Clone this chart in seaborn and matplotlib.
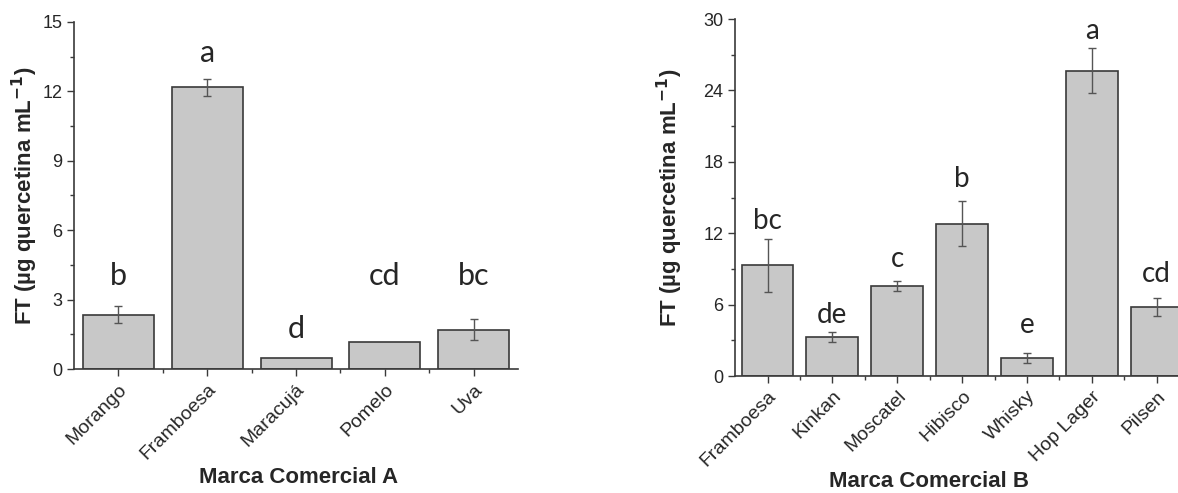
import numpy as np
import pandas as pd
import matplotlib
matplotlib.use('Agg')
import matplotlib.pyplot as plt
import seaborn as sns
from matplotlib.ticker import MultipleLocator

### Dados ###

sabores_a = ['Morango', 'Framboesa', 'Maracujá', 'Pomelo', 'Uva']
ft_a = [2.35, 12.17, 0.47, 1.17, 1.70]
dp_a = [0.38, 0.38, 0.0, 0.0, 0.45]
letras_a = ['b', 'a', 'd', 'cd', 'bc']
y_letras_a = [3.63, 13.27, 1.34, 3.63, 3.63]   # linha de base das letras

sabores_b = ['Framboesa', 'Kinkan', 'Moscatel', 'Hibisco', 'Whisky', 'Hop Lager', 'Pilsen']
ft_b = [9.3, 3.28, 7.56, 12.8, 1.5, 25.65, 5.8]
dp_b = [2.2, 0.45, 0.4, 1.9, 0.42, 1.9, 0.75]
letras_b = ['bc', 'de', 'c', 'b', 'e', 'a', 'cd']
y_letras_b = [12.35, 4.45, 9.16, 15.9, 3.6, 28.3, 7.9]

sns.set_style('ticks')
plt.rcParams['font.family'] = ['Liberation Sans', 'DejaVu Sans']
plt.rcParams['mathtext.default'] = 'bf'

cinza_borda = '#3a3a3a'


def painel(ax, sabores, ft, dp, letras, y_letras, ymax, passo, xlabel, tam_letra):
    df = pd.DataFrame({'Sabor': sabores, 'FT': ft, 'DP': dp})
    sns.barplot(data=df, x='Sabor', y='FT', color='#c8c8c8', saturation=1,
                edgecolor=cinza_borda, linewidth=1.2, width=0.8,
                errorbar=None, ax=ax)
    com_erro = df[df['DP'] > 0]
    ax.errorbar(com_erro.index, com_erro['FT'], yerr=com_erro['DP'], fmt='none',
                ecolor='#555555', elinewidth=1, capsize=3, capthick=1)
    for i, (l, yl) in enumerate(zip(letras, y_letras)):
        ax.text(i, yl, l, ha='center', va='baseline', fontsize=tam_letra,
                family=['Lato', 'DejaVu Sans'])

    n = len(sabores)
    ax.set_xlim(-0.5, n - 0.5)
    ax.set_ylim(0, ymax)
    ax.set_yticks(np.arange(0, ymax + 1, passo))
    ax.yaxis.set_minor_locator(MultipleLocator(passo / 2))
    ax.set_xticks(np.arange(0.5, n - 1, 1), minor=True)
    ax.tick_params(which='major', direction='out', length=5, width=1, color=cinza_borda)
    ax.tick_params(which='minor', direction='out', length=3, width=1, color=cinza_borda)
    ax.tick_params(axis='y', labelsize=13)
    ax.tick_params(axis='x', labelsize=14)
    plt.setp(ax.get_xticklabels(), rotation=45, ha='right', rotation_mode='anchor')
    ax.set_xlabel(xlabel, fontsize=16, fontweight='bold')
    ax.set_ylabel('FT (µg quercetina mL$^{-1}$)', fontsize=16, fontweight='bold')
    for lado in ['top', 'right']:
        ax.spines[lado].set_visible(False)
    for lado in ['left', 'bottom']:
        ax.spines[lado].set_color(cinza_borda)
        ax.spines[lado].set_linewidth(1.2)


fig = plt.figure(figsize=(11.78, 4.93), dpi=100)
ax1 = fig.add_axes([0.0628, 0.2515, 0.377, 0.704])
ax2 = fig.add_axes([0.624, 0.2373, 0.3855, 0.724])

painel(ax1, sabores_a, ft_a, dp_a, letras_a, y_letras_a, 15, 3, 'Marca Comercial A', 22)
painel(ax2, sabores_b, ft_b, dp_b, letras_b, y_letras_b, 30, 6, 'Marca Comercial B', 20)

ax1.xaxis.set_label_coords(0.505, -0.282)
ax2.xaxis.set_label_coords(0.427, -0.266)
ax1.yaxis.set_label_coords(-0.077, 0.5)
ax2.yaxis.set_label_coords(-0.110, 0.5)

plt.savefig('out.png', dpi=100)
